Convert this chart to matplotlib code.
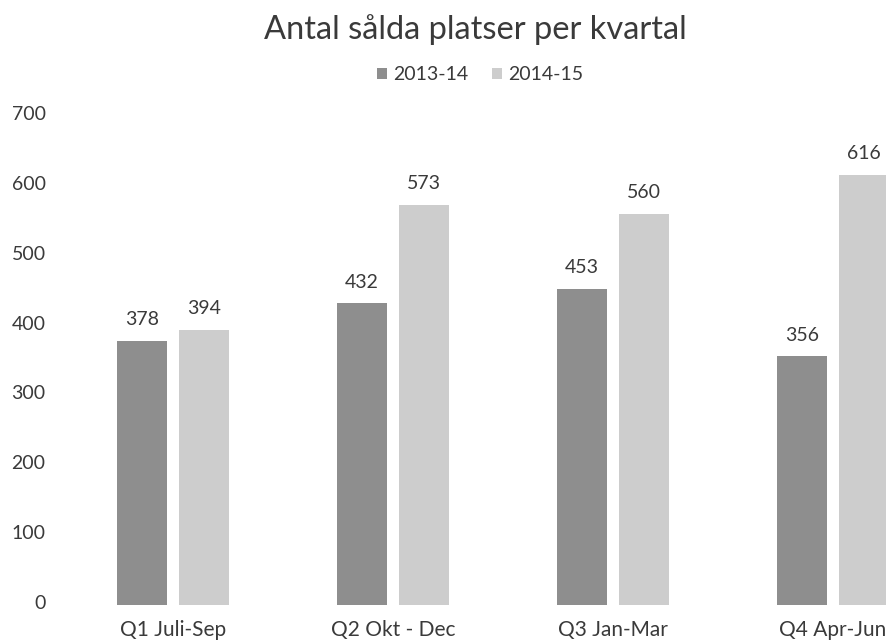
import matplotlib
matplotlib.use("Agg")
import matplotlib.pyplot as plt
import matplotlib.transforms as mtransforms
import numpy as np

categories = ["Q1 Juli-Sep", "Q2 Okt - Dec", "Q3 Jan-Mar", "Q4 Apr-Jun"]
series_names = ["2013-14", "2014-15"]
values_1314 = [378, 432, 453, 356]
values_1415 = [394, 573, 560, 616]
yticks = [0, 100, 200, 300, 400, 500, 600, 700]

plt.rcParams['font.family'] = ['Lato', 'DejaVu Sans']
text_color = "#3a3a3a"

W, H = 887, 643
fig = plt.figure(figsize=(W / 100, H / 100), dpi=100)
left_px, right_px = 90, 887
bottom_px, top_px = 605, 116
ax = fig.add_axes([left_px / W, (H - bottom_px) / H,
                   (right_px - left_px) / W, (bottom_px - top_px) / H])

x = np.arange(len(categories))
bw = 0.227
off = 0.14
b1 = ax.bar(x - off, values_1314, bw, color="#8e8e8e", label=series_names[0])
b2 = ax.bar(x + off, values_1415, bw, color="#cdcdcd", label=series_names[1])

ax.bar_label(b1, padding=9, fontsize=14, color=text_color, clip_on=False)
ax.bar_label(b2, padding=9, fontsize=14, color=text_color, clip_on=False)

ax.set_xlim(-0.377, 3.245)
ax.set_ylim(0, 700)
ax.set_yticks(yticks)
ax.set_yticklabels([str(t) for t in yticks], fontsize=14, color=text_color)
ax.set_xticks(x)
ax.set_xticklabels(categories, fontsize=15, color=text_color)
ax.tick_params(axis='y', length=0, pad=32)
ax.tick_params(axis='x', length=0, pad=11)
shift = mtransforms.ScaledTranslation(0, 3 / 100, fig.dpi_scale_trans)
for lbl in ax.get_yticklabels():
    lbl.set_transform(lbl.get_transform() + shift)
for s in ax.spines.values():
    s.set_visible(False)

fig.text(475 / W, 1 - 30 / H, "Antal sålda platser per kvartal", ha="center", va="center",
         fontsize=23.5, color=text_color, fontweight="normal")

leg = fig.legend(handles=[b1, b2], labels=series_names, loc="center",
                 bbox_to_anchor=(480 / W, 1 - 75 / H), ncol=2, frameon=False,
                 fontsize=14, handlelength=0.5, handleheight=0.5, handletextpad=0.3,
                 columnspacing=1.25, labelcolor=text_color)

fig.savefig("out.png", dpi=100)
